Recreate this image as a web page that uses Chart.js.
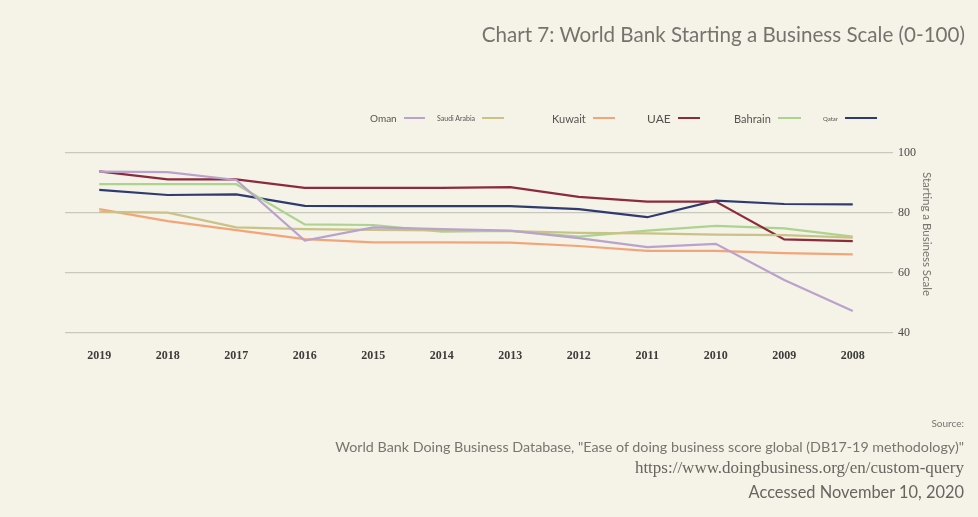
<!DOCTYPE html>
<html>
<head>
<meta charset="utf-8">
<script src="https://cdn.jsdelivr.net/npm/chart.js@4"></script>
<style>
  html, body { margin: 0; padding: 0; background: #f5f2e8; }
  #wrap { position: relative; width: 978px; height: 517px; overflow: hidden; font-family: Lato, sans-serif; color: #76766e; }
  #wrap canvas { position: absolute; left: 0; top: 0; }
  .txt { position: absolute; white-space: nowrap; }
  #title { right: 13px; top: 22px; font-size: 20.6px; color: #74746c; }
  .leg { position: absolute; top: 111px; height: 14px; display: flex; align-items: center; color: #55554f; }
  .leg i { display: inline-block; height: 2px; margin-left: 7px; }
  #ytitle { left: 927px; top: 234px; font-size: 11.5px; transform: translate(-50%, -50%) rotate(90deg); }
  .src { right: 14px; text-align: right; }
</style>
</head>
<body>
<div id="wrap">
  <canvas id="chart" width="978" height="517"></canvas>
  <div id="title" class="txt">Chart 7: World Bank Starting a Business Scale (0-100)</div>
  <div id="legend"></div>
  <div id="ytitle" class="txt">Starting a Business Scale</div>
  <div class="txt src" style="top:417px;font-size:10px;">Source:</div>
  <div class="txt src" style="top:438px;font-size:14.3px;">World Bank Doing Business Database, "Ease of doing business score global (DB17-19 methodology)"</div>
  <div class="txt src" style="top:458px;font-size:17px;font-family:'Liberation Serif',serif;color:#66665f;">https://www.doingbusiness.org/en/custom-query</div>
  <div class="txt src" style="top:482px;font-size:16.4px;color:#66665f;">Accessed November 10, 2020</div>
</div>
<script>
const years = ["2019", "2018", "2017", "2016", "2015", "2014", "2013", "2012", "2011", "2010", "2009", "2008"];
const yTicks = [40, 60, 80, 100];

const oman = [93.8, 93.6, 91.0, 70.8, 75.2, 74.6, 74.1, 71.6, 68.6, 69.7, 57.7, 47.3];
const saudiArabia = [80.4, 80.1, 75.2, 74.6, 74.4, 74.2, 74.0, 73.4, 73.2, 72.8, 72.6, 71.8];
const kuwait = [81.3, 77.3, 74.3, 71.3, 70.2, 70.2, 70.1, 69.0, 67.4, 67.4, 66.6, 66.2];
const uae = [93.9, 91.2, 91.2, 88.4, 88.4, 88.4, 88.6, 85.4, 83.8, 83.8, 71.2, 70.6];
const bahrain = [89.6, 89.6, 89.6, 76.2, 76.0, 73.8, 74.0, 72.1, 74.1, 75.7, 74.9, 72.1];
const qatar = [87.7, 86.0, 86.2, 82.4, 82.3, 82.3, 82.3, 81.3, 78.6, 84.1, 83.0, 82.9];

const series = [
  { label: "Oman", data: oman, color: "#b9a2cb", font: 10, left: 370, w: 21 },
  { label: "Saudi Arabia", data: saudiArabia, color: "#c9c386", font: 7, left: 437, w: 22 },
  { label: "Kuwait", data: kuwait, color: "#f2a579", font: 11, left: 552, w: 22 },
  { label: "UAE", data: uae, color: "#8c2b3c", font: 12, left: 647, w: 22 },
  { label: "Bahrain", data: bahrain, color: "#acd38f", font: 11, left: 734, w: 23 },
  { label: "Qatar", data: qatar, color: "#2f3b70", font: 6, left: 823, w: 32 }
];

// legend as html, the original mixes font sizes per entry
const legend = document.getElementById("legend");
series.forEach(function (s) {
  const el = document.createElement("div");
  el.className = "leg";
  el.style.left = s.left + "px";
  el.style.fontSize = s.font + "px";
  el.innerHTML = "<span>" + s.label + "</span><i style='width:" + s.w + "px;background:" + s.color + "'></i>";
  legend.appendChild(el);
});

new Chart(document.getElementById("chart"), {
  type: "line",
  data: {
    labels: years,
    datasets: series.map(function (s) {
      return {
        label: s.label,
        data: s.data,
        borderColor: s.color,
        backgroundColor: s.color,
        borderWidth: 2.2,
        pointRadius: 0,
        tension: 0
      };
    })
  },
  options: {
    responsive: false,
    animation: false,
    layout: { padding: { left: 65, top: 153, right: 31, bottom: 154 } },
    plugins: { legend: { display: false }, tooltip: { enabled: false } },
    scales: {
      x: {
        offset: true,
        grid: { display: false },
        border: { display: false },
        ticks: { color: "#3c3c38", font: { family: "'Liberation Serif', serif", size: 12, weight: "bold" }, padding: 8, maxRotation: 0 },
        afterFit: function (scale) { scale.height = 30; }
      },
      y: {
        position: "right",
        min: 40,
        max: 100,
        afterBuildTicks: function (scale) { scale.ticks = yTicks.map(function (v) { return { value: v }; }); },
        grid: { color: "#c9c8bf", lineWidth: 1.2, tickLength: 6 },
        border: { display: false },
        ticks: { color: "#4a4a45", font: { family: "'Liberation Serif', serif", size: 12 }, padding: 5 },
        afterFit: function (scale) { scale.width = 60; }
      }
    }
  }
});
</script>
</body>
</html>
